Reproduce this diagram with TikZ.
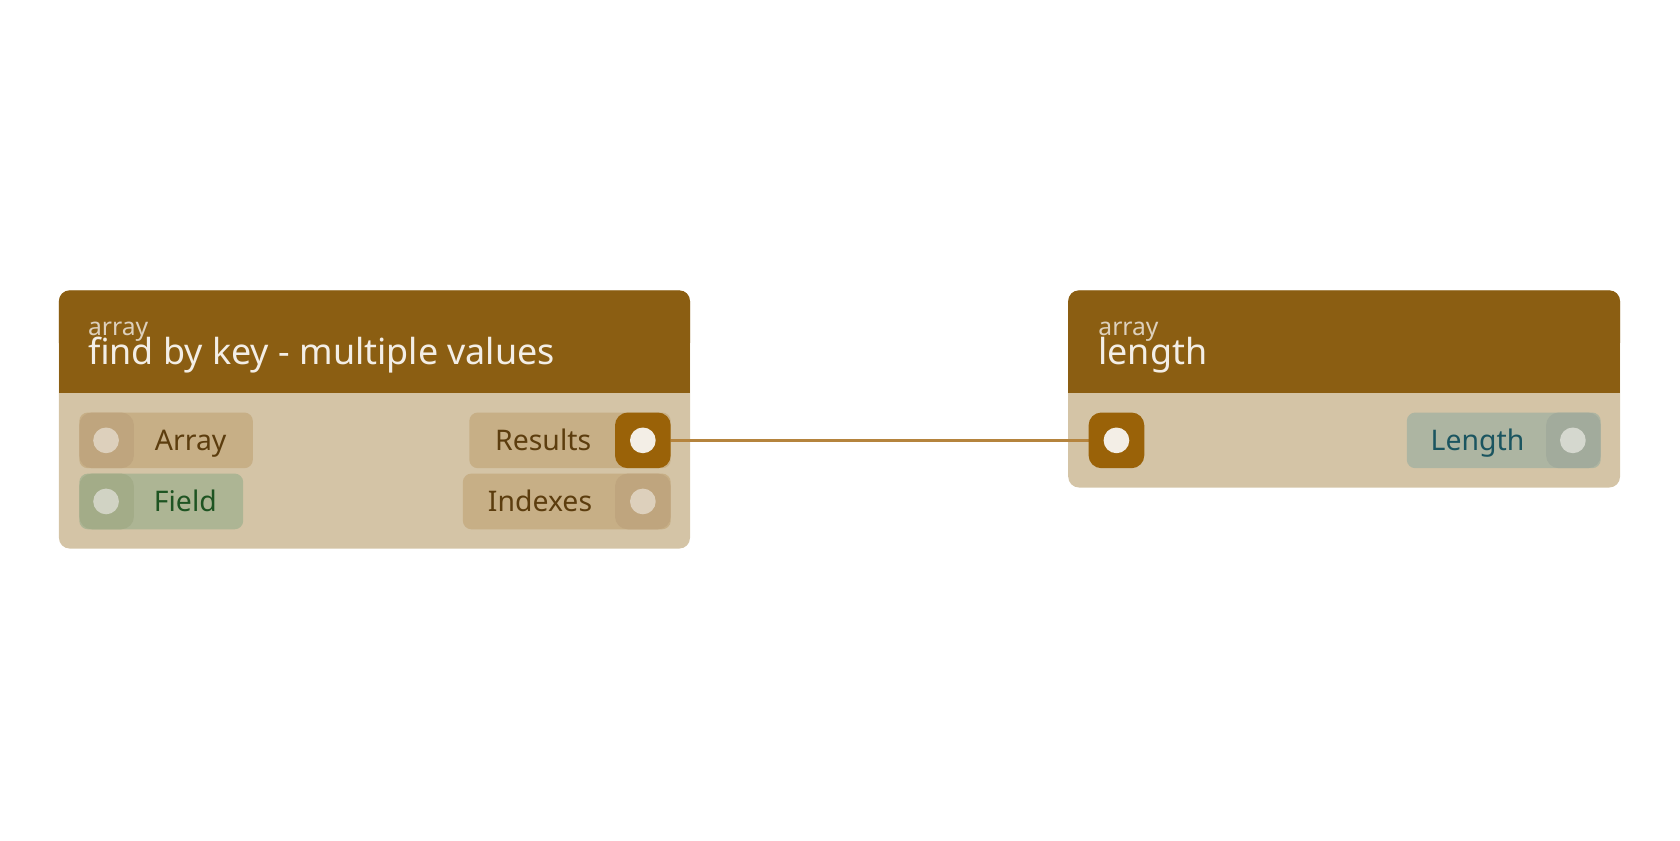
\documentclass[tikz,border=0pt]{standalone}
\usepackage{fontspec}
\setmainfont{Noto Sans}
\begin{document}
\begin{tikzpicture}[x=1pt,y=-1pt,
  lbl/.style={font=\fontsize{26.5}{30}\selectfont,anchor=base,inner sep=0pt},
  sub/.style={anchor=base west,text=pdot,font=\fontsize{23}{25}\selectfont,inner sep=0pt},
  ttl/.style={anchor=base west,text=actdot,font=\fontsize{33.5}{36}\selectfont,inner sep=0pt},
  dot/.style={circle,minimum size=24pt,inner sep=0pt}]
\definecolor{hdrc}{HTML}{8B5E12}
\definecolor{bodyc}{HTML}{D4C4A6}
\definecolor{pill}{HTML}{C7AF86}
\definecolor{pport}{HTML}{BFA57E}
\definecolor{pdot}{HTML}{DDD0BC}
\definecolor{gpill}{HTML}{ADB594}
\definecolor{gport}{HTML}{A3AC88}
\definecolor{gdot}{HTML}{D1D3C4}
\definecolor{act}{HTML}{9A6208}
\definecolor{actdot}{HTML}{F3EEE6}
\definecolor{tpill}{HTML}{ADB5A2}
\definecolor{tport}{HTML}{A2AB9C}
\definecolor{tdot}{HTML}{D5D8CF}
\definecolor{wire}{HTML}{B5843E}
\definecolor{brn}{HTML}{5C3D0E}
\definecolor{grn}{HTML}{1E5422}
\definecolor{teal}{HTML}{1B5560}
\useasboundingbox (0,0) rectangle (1568,784);
% left node
\fill[bodyc,rounded corners=10pt] (55,271) rectangle (644,512);
\fill[hdrc,rounded corners=10pt] (55,271) rectangle (644,330);
\fill[hdrc] (55,310) rectangle (644,367);
\node[sub] (c1) at (82,313) {array};
\node[ttl] (t1) at (82,340) {find by key - multiple values};
% right node
\fill[bodyc,rounded corners=10pt] (997,271) rectangle (1512,455);
\fill[hdrc,rounded corners=10pt] (997,271) rectangle (1512,330);
\fill[hdrc] (997,310) rectangle (1512,367);
\node[sub] (c2) at (1025,313) {array};
\node[ttl] (t2) at (1025,340) {length};
% wire (behind ports)
\coordinate (ws) at (600,411);
\coordinate (we) at (1042,411);
\draw[wire,line width=2.5pt] (ws) -- (we);
% Array
\fill[pill,rounded corners=8pt] (74,385) rectangle (236,437);
\fill[pport,rounded corners=12pt] (74,385) rectangle (125,437);
\node[dot,fill=pdot] (pa) at (99,411) {};
\node[lbl,text=brn] (la) at (178,420) {Array};
% Field
\fill[gpill,rounded corners=8pt] (74,442) rectangle (227,494);
\fill[gport,rounded corners=12pt] (74,442) rectangle (125,494);
\node[dot,fill=gdot] (pf) at (99,468) {};
\node[lbl,text=grn] (lf) at (173,477) {Field};
% Results
\fill[pill,rounded corners=8pt] (438,385) rectangle (626,437);
\fill[act,rounded corners=12pt] (574,385) rectangle (626,437);
\node[dot,fill=actdot] (pr) at (600,411) {};
\node[lbl,text=brn] (lr) at (507,420) {Results};
% Indexes
\fill[pill,rounded corners=8pt] (432,442) rectangle (626,494);
\fill[pport,rounded corners=12pt] (574,442) rectangle (626,494);
\node[dot,fill=pdot] (pi) at (600,468) {};
\node[lbl,text=brn] (li) at (504,477) {Indexes};
% right ports
\fill[act,rounded corners=12pt] (1016,385) rectangle (1068,437);
\node[dot,fill=actdot] (pin) at (1042,411) {};
\fill[tpill,rounded corners=8pt] (1313,385) rectangle (1494,437);
\fill[tport,rounded corners=12pt] (1443,385) rectangle (1494,437);
\node[dot,fill=tdot] (pl) at (1468,411) {};
\node[lbl,text=teal] (ll) at (1379,420) {Length};
\end{tikzpicture}
\end{document}
